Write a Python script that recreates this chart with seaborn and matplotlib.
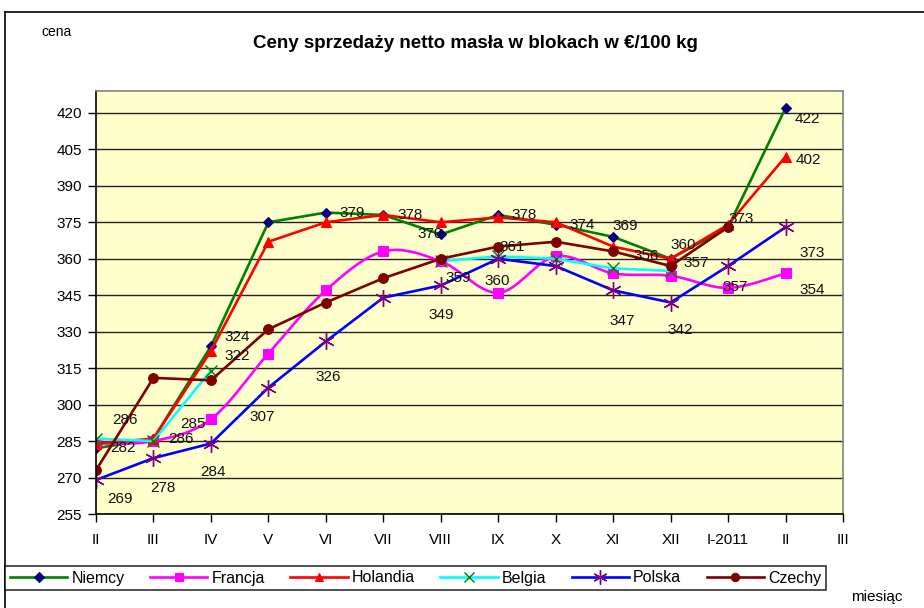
import numpy as np
import pandas as pd
import matplotlib
matplotlib.use("Agg")
import matplotlib.pyplot as plt
from matplotlib.lines import Line2D
import seaborn as sns

# ---------------- data ----------------
months = ["II", "III", "IV", "V", "VI", "VII", "VIII", "IX", "X", "XI", "XII", "I-2011", "II", "III"]
nan = np.nan
niemcy   = [282, 286, 324, 375, 379, 378, 370, 378, 374, 369, 360, 373, 422]
francja  = [284, 285, 294, 321, 347, 363, 359, 346, 361, 354, 353, 348, 354]
holandia = [284, 286, 322, 367, 375, 378, 375, 377, 375, 365, 360, 374, 402]
belgia   = [286, 285, 314, nan, nan, nan, 359, 361, 360, 356, 355, nan, nan]
polska   = [269, 278, 284, 307, 326, 344, 349, 360, 357, 347, 342, 357, 373]
czechy   = [273, 311, 310, 331, 342, 352, 360, 365, 367, 363, 357, 373, nan]

series_names = ["Niemcy", "Francja", "Holandia", "Belgia", "Polska", "Czechy"]
series_vals = [niemcy, francja, holandia, belgia, polska, czechy]

# which points carry a value label (series, index) -> offset in pixels (dx, dy down)
labels = {
    "Niemcy":   {0: (27, 0), 1: (28, 0), 2: (26, -9), 4: (26, 0), 5: (27, 0), 6: (-11, 0),
                 7: (26, 0), 8: (26, 0), 9: (12, -11), 10: (13, -14), 11: (13, -8), 12: (22, 11)},
    "Holandia": {2: (26, 5), 12: (23, 3)},
    "Francja":  {12: (27, 17)},
    "Belgia":   {0: (29, -19), 1: (40, -17), 6: (17, 17), 7: (14, -9), 9: (33, -12)},
    "Polska":   {0: (24, 19), 1: (9, 30), 2: (2, 29), 3: (-6, 29), 4: (2, 36), 6: (0, 30),
                 7: (-1, 22), 9: (9, 31), 10: (10, 28), 11: (7, 21), 12: (27, 26)},
    "Czechy":   {10: (26, -3)},
}

styles = {
    "Niemcy":   dict(color="#008000", marker="D", ms=5.5, mfc="#000080", mec="#000080", mew=0.8),
    "Francja":  dict(color="#FF00FF", marker="s", ms=6.5, mfc="#FF00FF", mec="#FF00FF", mew=0.8),
    "Holandia": dict(color="#FF0000", marker="^", ms=7.5, mfc="#FF0000", mec="#FF0000", mew=0.8),
    "Belgia":   dict(color="#00FFFF", marker="x", ms=9, mfc="none", mec="#008000", mew=1.0),
    "Polska":   dict(color="#0000FF", marker=(6, 2, 0), ms=12, mfc="none", mec="#800080", mew=1.0),
    "Czechy":   dict(color="#800000", marker="o", ms=7, mfc="#800000", mec="#800000", mew=0.8),
}
LW = 1.9

W, H = 924, 608
fig = plt.figure(figsize=(W / 100, H / 100), dpi=100)
plt.rcParams["font.family"] = ["Liberation Sans", "DejaVu Sans"]

L, R, T, B = 96, 843, 91, 514
ax = fig.add_axes([L / W, 1 - B / H, (R - L) / W, (B - T) / H])
ax.set_facecolor("#FFFFCC")

xs = np.arange(len(months))


def smooth_curve(x, y, n=20):
    # Excel-like smoothed line (cubic Bezier through the points)
    x = np.asarray(x, float)
    y = np.asarray(y, float)
    px, py = [], []
    m = len(x)
    for i in range(m - 1):
        p0 = (x[max(i - 1, 0)], y[max(i - 1, 0)])
        p1 = (x[i], y[i])
        p2 = (x[i + 1], y[i + 1])
        p3 = (x[min(i + 2, m - 1)], y[min(i + 2, m - 1)])
        c1 = (p1[0] + (p2[0] - p0[0]) / 6, p1[1] + (p2[1] - p0[1]) / 6)
        c2 = (p2[0] - (p3[0] - p1[0]) / 6, p2[1] - (p3[1] - p1[1]) / 6)
        t = np.linspace(0, 1, n, endpoint=(i == m - 2))
        bx = (1 - t) ** 3 * p1[0] + 3 * (1 - t) ** 2 * t * c1[0] + 3 * (1 - t) * t ** 2 * c2[0] + t ** 3 * p2[0]
        by = (1 - t) ** 3 * p1[1] + 3 * (1 - t) ** 2 * t * c1[1] + 3 * (1 - t) * t ** 2 * c2[1] + t ** 3 * p2[1]
        px.extend(bx)
        py.extend(by)
    return np.array(px), np.array(py)


for name, vals in zip(series_names, series_vals):
    st = styles[name]
    v = np.array(vals, float)
    xv = xs[:len(v)]
    ok = ~np.isnan(v)
    # contiguous segments (gaps for missing months)
    segs = []
    cur = []
    for i in range(len(v)):
        if ok[i]:
            cur.append(i)
        elif cur:
            segs.append(cur)
            cur = []
    if cur:
        segs.append(cur)
    for sg in segs:
        if name == "Francja":
            sx, sy = smooth_curve(xv[sg], v[sg])
            sns.lineplot(x=sx, y=sy, ax=ax, color=st["color"], lw=LW, sort=False, estimator=None)
        else:
            sns.lineplot(x=xv[sg], y=v[sg], ax=ax, color=st["color"], lw=LW, sort=False, estimator=None)
    sns.lineplot(x=xv[ok], y=v[ok], ax=ax, color=st["color"], lw=0, linestyle="",
                 marker=st["marker"], markersize=st["ms"], markerfacecolor=st["mfc"],
                 markeredgecolor=st["mec"], markeredgewidth=st["mew"], sort=False, estimator=None)

for name, vals in zip(series_names, series_vals):
    for i, (dx, dy) in labels.get(name, {}).items():
        val = vals[i]
        ax.annotate(f"{val:.0f}", (xs[i], val), xytext=(dx, -dy), textcoords="offset pixels",
                    ha="center", va="center", fontsize=11, color="#111111", zorder=10)

ax.set_xlim(0, len(months) - 1)
ax.set_ylim(255, 429)
ax.set_yticks(np.arange(255, 421, 15))
ax.set_xticks(xs)
ax.set_xticklabels(months)
ax.tick_params(axis="both", labelsize=11, length=6, width=1, color="black", direction="out")
ax.tick_params(axis="x", pad=8)
ax.tick_params(axis="y", pad=4)
ax.grid(axis="y", color="#222222", lw=1)
ax.grid(axis="x", visible=False)
ax.set_axisbelow(True)
ax.set_xlabel("")
ax.set_ylabel("")
for s in ["left", "bottom"]:
    ax.spines[s].set_color("black")
    ax.spines[s].set_linewidth(1.2)
for s in ["top", "right"]:
    ax.spines[s].set_color("#808080")
    ax.spines[s].set_linewidth(1.2)

# texts
fig.text(475 / W, 1 - 44 / H, "Ceny sprzedaży netto masła w blokach w €/100 kg",
         ha="center", va="center", fontsize=13.5, fontweight="bold")
fig.text(57 / W, 1 - 32 / H, "cena", ha="center", va="center", fontsize=10)
fig.text(877 / W, 1 - 597 / H, "miesiąc", ha="center", va="center", fontsize=11)

# outer chart border (partial, as in the reference)
fig.add_artist(Line2D([5 / W, 1], [1 - 12 / H, 1 - 12 / H], color="black", lw=1.2, transform=fig.transFigure))
fig.add_artist(Line2D([5 / W, 5 / W], [1 - 12 / H, 0], color="black", lw=1.2, transform=fig.transFigure))

# legend
handles = []
for name in series_names:
    st = styles[name]
    handles.append(Line2D([], [], color=st["color"], lw=LW, marker=st["marker"], markersize=st["ms"] * 0.85,
                          markerfacecolor=st["mfc"], markeredgecolor=st["mec"], markeredgewidth=st["mew"]))
leg = fig.legend(handles, series_names, loc="center", ncol=6, mode="expand",
                 bbox_to_anchor=(5 / W, 1 - 595 / H, (826 - 5) / W, 34 / H),
                 frameon=True, fancybox=False, fontsize=11.5, handlelength=3.6,
                 handletextpad=0.25, borderpad=0.3, borderaxespad=0)
leg.get_frame().set_edgecolor("black")
leg.get_frame().set_linewidth(1.2)

fig.savefig("out.png", dpi=100, facecolor="white")
